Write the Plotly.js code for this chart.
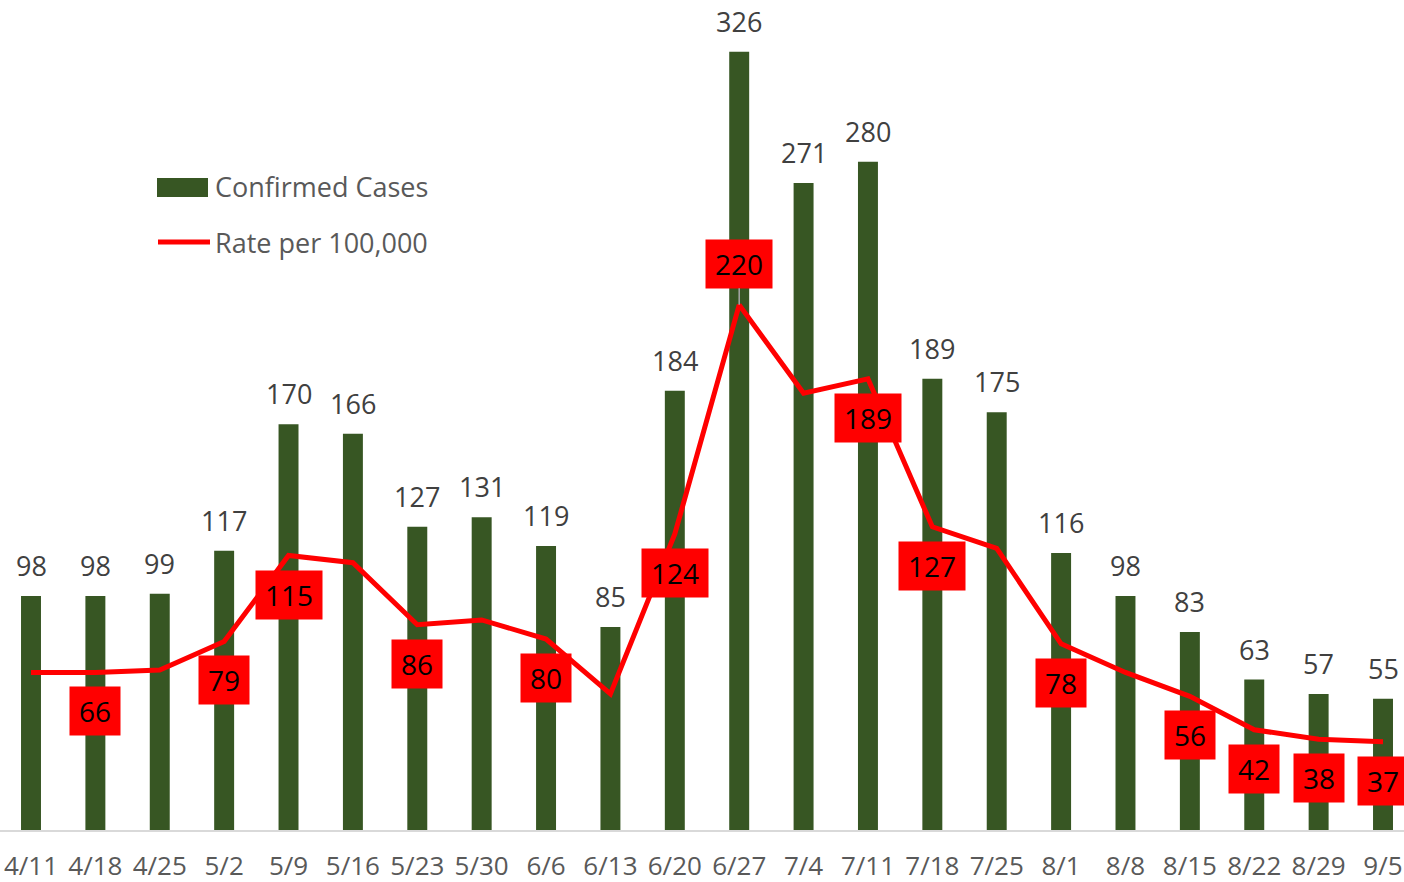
<!DOCTYPE html>
<html>
<head>
<meta charset="utf-8">
<script src="https://cdn.plot.ly/plotly-3.0.1.min.js"></script>
<style>
  html, body { margin: 0; padding: 0; background: #fff; }
  #chart { width: 1404px; height: 882px; }
</style>
</head>
<body>
<div id="chart"></div>
<script>
const weeks = ['4/11', '4/18', '4/25', '5/2', '5/9', '5/16', '5/23', '5/30', '6/6', '6/13', '6/20',
    '6/27', '7/4', '7/11', '7/18', '7/25', '8/1', '8/8', '8/15', '8/22', '8/29', '9/5'];
const confirmedCases = [98, 98, 99, 117, 170, 166, 127, 131, 119, 85, 184,
    326, 271, 280, 189, 175, 116, 98, 83, 63, 57, 55];
const ratePer100k = [66, 66, 67, 79, 115, 112, 86, 88, 80, 57, 124,
    220, 183, 189, 127, 118, 78, 66, 56, 42, 38, 37];
// which rate points carry a label in the original
const labelledRates = [1, 3, 4, 6, 8, 10, 11, 13, 14, 16, 18, 19, 20, 21];

const GREEN = '#375623';
const RED = '#ff0000';
const FONT = 'Open Sans, sans-serif';

const plotH = 830;
const yMax = plotH / 2.387;

const idx = weeks.map((w, i) => i);

const traces = [
    {
        type: 'bar',
        x: idx,
        y: confirmedCases,
        name: 'Confirmed Cases',
        marker: { color: GREEN },
        width: 0.31,
        hoverinfo: 'skip'
    },
    {
        type: 'scatter',
        mode: 'lines',
        x: idx,
        y: ratePer100k,
        yaxis: 'y2',
        name: 'Rate per 100,000',
        line: { color: RED, width: 5 },
        hoverinfo: 'skip'
    }
];

const annotations = [];

// bar value labels
confirmedCases.forEach((v, i) => {
    annotations.push({
        x: i, y: v, xref: 'x', yref: 'y',
        text: String(v),
        showarrow: false,
        yanchor: 'bottom',
        yshift: 10,
        font: { family: FONT, size: 27, color: '#404040' }
    });
});

// rate labels in red boxes
labelledRates.forEach(i => {
    const v = ratePer100k[i];
    const above = i === 11;
    const a = {
        x: i, y: v, xref: 'x', yref: 'y2',
        text: String(v),
        font: { family: FONT, size: 28, color: '#000' },
        bgcolor: RED,
        borderpad: 7,
        width: 16 * String(v).length + 4,
        height: 34,
        showarrow: false,
        yanchor: 'middle',
        yshift: above ? 41 : -39
    };
    if (above) {
        a.showarrow = true;
        a.arrowhead = 0;
        a.arrowwidth = 1.5;
        a.arrowcolor = '#a6a6a6';
        a.ax = 0;
        a.ay = -41;
        a.yshift = 0;
    }
    annotations.push(a);
});

// legend text
const px = x => x / 1404;
const py = y => (plotH - y) / plotH;
annotations.push({
    x: px(213), y: py(187), xref: 'paper', yref: 'paper',
    text: 'Confirmed Cases', showarrow: false, xanchor: 'left', yanchor: 'middle',
    font: { family: FONT, size: 27, color: '#595959' }
});
annotations.push({
    x: px(213), y: py(242), xref: 'paper', yref: 'paper',
    text: 'Rate per 100,000', showarrow: false, xanchor: 'left', yanchor: 'middle',
    font: { family: FONT, size: 27, color: '#595959' }
});

const shapes = [
    {
        type: 'rect', xref: 'paper', yref: 'paper',
        x0: px(157), x1: px(208), y0: py(197), y1: py(178),
        fillcolor: GREEN, line: { width: 0 }
    },
    {
        type: 'line', xref: 'paper', yref: 'paper',
        x0: px(158), x1: px(210), y0: py(242), y1: py(242),
        line: { color: RED, width: 5 }
    }
];

const layout = {
    width: 1404,
    height: 882,
    margin: { l: 0, r: 0, t: 0, b: 52 },
    paper_bgcolor: '#fff',
    plot_bgcolor: '#fff',
    showlegend: false,
    xaxis: {
        range: [-0.4815, 21.326],
        tickmode: 'array',
        tickvals: idx,
        ticktext: weeks,
        ticks: '',
        showgrid: false,
        zeroline: false,
        showline: true,
        linecolor: '#d9d9d9',
        linewidth: 2,
        ticklabelstandoff: 12,
        tickfont: { family: FONT, size: 26, color: '#595959' }
    },
    yaxis: {
        range: [0, yMax],
        visible: false,
        showgrid: false,
        zeroline: false
    },
    yaxis2: {
        range: [0, yMax],
        overlaying: 'y',
        side: 'right',
        visible: false,
        showgrid: false,
        zeroline: false
    },
    annotations: annotations,
    shapes: shapes
};

Plotly.newPlot('chart', traces, layout, { displayModeBar: false, staticPlot: true });
</script>
</body>
</html>
